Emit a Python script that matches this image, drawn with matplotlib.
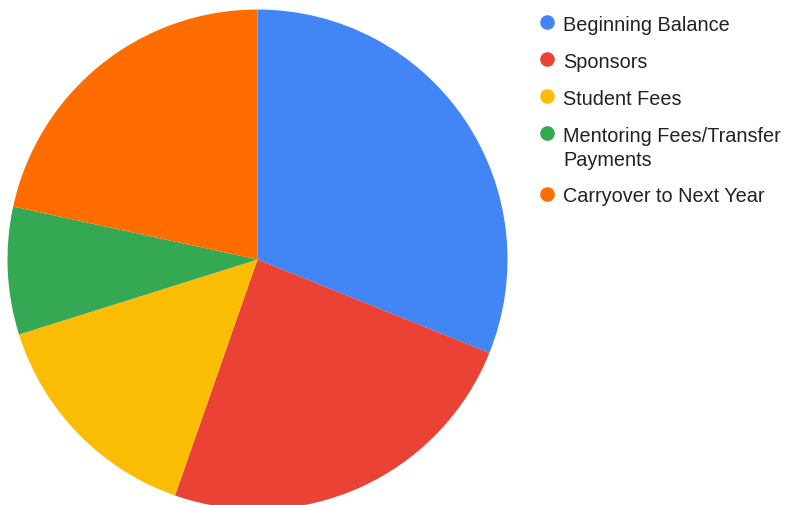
import matplotlib.pyplot as plt

labels = ["Beginning Balance", "Sponsors", "Student Fees",
          "Mentoring Fees/Transfer\nPayments", "Carryover to Next Year"]
values = [31.1, 24.25, 14.8, 8.25, 21.6]
colors = ["#4285F4", "#EA4335", "#FBBC04", "#34A853", "#FF6D01"]

plt.rcParams['font.family'] = ['Liberation Sans', 'DejaVu Sans']

fig = plt.figure(figsize=(7.91, 5.06), dpi=100)
# pie centred at (257.5, 260.5) px, radius 250 px
ax = fig.add_axes([7.5 / 791, -4.5 / 506, 500 / 791, 500 / 506])
ax.pie(values, colors=colors, startangle=90, counterclock=False, radius=1,
       wedgeprops=dict(linewidth=0))
ax.set_xlim(-1, 1)
ax.set_ylim(-1, 1)
ax.set_aspect('equal')
ax.axis('off')

# legend drawn by hand in a pixel-space overlay
lg = fig.add_axes([0, 0, 1, 1])
lg.set_xlim(0, 791)
lg.set_ylim(506, 0)
lg.axis('off')

y = 23
for lab, c in zip(labels, colors):
    lg.plot(546.5, y, 'o', markersize=9.5, color=c)
    for k, line in enumerate(lab.split('\n')):
        lg.text(563, y + 24 * k, line, fontsize=14.3, color='#222222',
                va='center_baseline', ha='left')
    y += 37 + 24 * lab.count('\n')

fig.savefig("out.png", dpi=100)
